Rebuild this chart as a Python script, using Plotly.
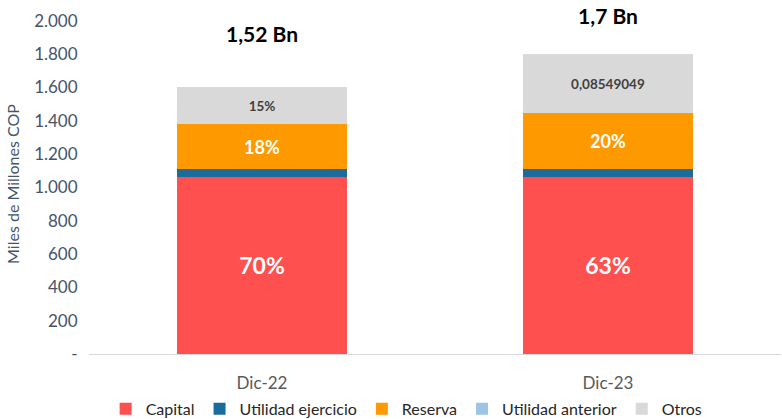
import plotly.graph_objects as go

periods = ["Dic-22", "Dic-23"]

capital = [1065, 1065]
utilidad_ejercicio = [46, 44]
reserva = [268, 336]
utilidad_anterior = [0, 0]
otros = [222, 356]

capital_labels = ["70%", "63%"]
reserva_labels = ["18%", "20%"]
otros_labels = ["15%", "0,08549049"]

total_labels = ["<b>1,52 Bn</b>", "<b>1,7 Bn</b>"]
total_label_y = [1905, 2012]

y_ticks = [0, 200, 400, 600, 800, 1000, 1200, 1400, 1600, 1800, 2000]
y_ticktext = ["-", "200", "400", "600", "800", "1.000", "1.200", "1.400", "1.600", "1.800", "2.000"]

FONT = "Lato, 'Open Sans', sans-serif"
Y_MAX = 2040
PLOT_BOTTOM = 354          # pixel row of the zero line
PX_PER_2000 = 333          # pixels between 0 and 2.000

fig = go.Figure()

series = [
    ("Capital", capital, "#FF5050", capital_labels, dict(color="white", size=23)),
    ("Utilidad ejercicio", utilidad_ejercicio, "#1B6C9B", None, None),
    ("Reserva", reserva, "#FF9900", reserva_labels, dict(color="white", size=18)),
    ("Utilidad anterior", utilidad_anterior, "#9DC3E6", None, None),
    ("Otros", otros, "#D9D9D9", otros_labels, dict(color="#404040", size=13.5)),
]

for name, vals, color, labels, tfont in series:
    kw = {}
    if labels:
        kw = dict(text=labels, textposition="inside", insidetextanchor="middle",
                  textangle=0, insidetextfont=dict(family=FONT, weight="bold", **tfont))
    fig.add_trace(go.Bar(
        x=periods, y=vals, name=name, marker=dict(color=color, line=dict(width=0)),
        width=0.49, hoverinfo="skip", **kw
    ))

# total labels above the bars
fig.add_trace(go.Scatter(
    x=periods, y=total_label_y, text=total_labels, mode="text",
    textposition="middle center", cliponaxis=False, showlegend=False,
    hoverinfo="skip", textfont=dict(family=FONT, size=21, color="#000000"),
))

plot_h = PX_PER_2000 * Y_MAX / 2000
fig.update_layout(
    barmode="stack",
    width=782, height=419,
    margin=dict(l=89, r=1, t=PLOT_BOTTOM - plot_h, b=419 - PLOT_BOTTOM),
    plot_bgcolor="white", paper_bgcolor="white",
    font=dict(family=FONT, color="#595959"),
    legend=dict(orientation="h", x=0.52, xanchor="center", xref="container",
                y=0.024, yanchor="middle", yref="container",
                font=dict(size=16, color="#262626"), itemwidth=30,
                traceorder="normal"),
    xaxis=dict(showgrid=False, showline=True, linecolor="#D9D9D9", linewidth=1,
               tickfont=dict(size=17, color="#595959"), ticks="outside", ticklen=14,
               tickcolor="rgba(0,0,0,0)", automargin=False),
    yaxis=dict(range=[0, Y_MAX], tickvals=y_ticks, ticktext=y_ticktext,
               showgrid=False, zeroline=False, showline=False,
               tickfont=dict(size=17, color="#44546A"), ticks="outside", ticklen=7,
               tickcolor="rgba(0,0,0,0)", automargin=False,
               title=dict(text="Miles de Millones COP", font=dict(size=16, color="#44546A"),
                          standoff=10)),
)

fig.write_html("out.html", config={"displayModeBar": False},
               post_script="document.body.style.margin='0px';")
